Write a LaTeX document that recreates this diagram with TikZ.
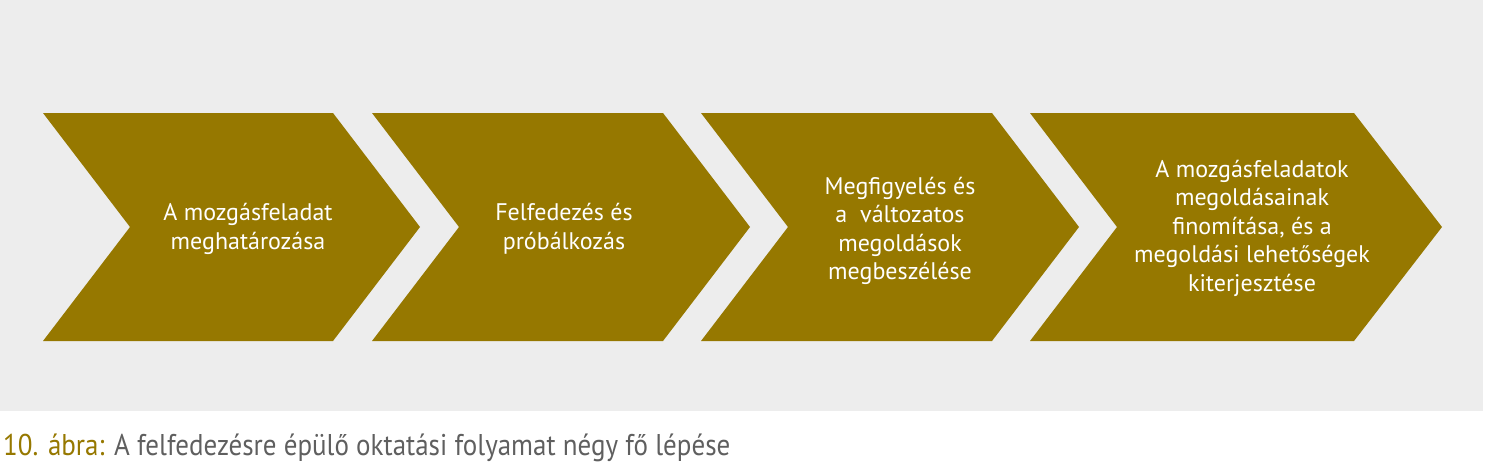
\documentclass[tikz,border=0pt]{standalone}
\usepackage{fontspec}
\setmainfont{PT Sans}
\newfontfamily\captionfont[FakeStretch=0.9]{PT Sans}
\definecolor{stepgold}{RGB}{150,120,0}
\definecolor{panelgray}{RGB}{237,237,237}
\definecolor{captiongray}{RGB}{95,95,95}

\begin{document}
\begin{tikzpicture}[x=1pt,y=1pt,yscale=-1,
  chevron/.style={fill=stepgold},
  steptext/.style={text=white,align=center,inner sep=0pt,font=\fontsize{24}{28.5}\selectfont}]
\useasboundingbox (0,0) rectangle (1486,471);

%Shape: Rectangle [panel]
\fill[panelgray] (0,0) rectangle (1483,411);
%Shape: Chevron [step 1]
\fill[chevron] (43,113) -- (333,113) -- (420,227) -- (333,341) -- (43,341) -- (130,227) -- cycle;
%Shape: Chevron [step 2]
\fill[chevron] (372,113) -- (663,113) -- (750,227) -- (663,341) -- (372,341) -- (459,227) -- cycle;
%Shape: Chevron [step 3]
\fill[chevron] (701,113) -- (992,113) -- (1079,227) -- (992,341) -- (701,341) -- (788,227) -- cycle;
%Shape: Chevron [step 4]
\fill[chevron] (1030,113) -- (1354,113) -- (1442,227) -- (1354,341) -- (1030,341) -- (1117,227) -- cycle;

% Text Node
\draw (248,229) node [steptext] (step1) {A mozgásfeladat\\meghatározása};
% Text Node
\draw (564,229) node [steptext] (step2) {Felfedezés és\\próbálkozás};
% Text Node
\draw (900,231) node [steptext] (step3) {Megfigyelés és\\a\ \ változatos\\megoldások\\megbeszélése};
% Text Node
\draw (1252,228) node [steptext] (step4) {A mozgásfeladatok\\megoldásainak\\finomítása, és a\\megoldási lehetőségek\\kiterjesztése};

% Text Node
\draw (3,455) node [anchor=base west,inner sep=0pt,text=captiongray,font=\captionfont\fontsize{30}{36}\selectfont] (caption) {\textcolor{stepgold}{10. ábra:} A felfedezésre épülő oktatási folyamat négy fő lépése};

\end{tikzpicture}
\end{document}
